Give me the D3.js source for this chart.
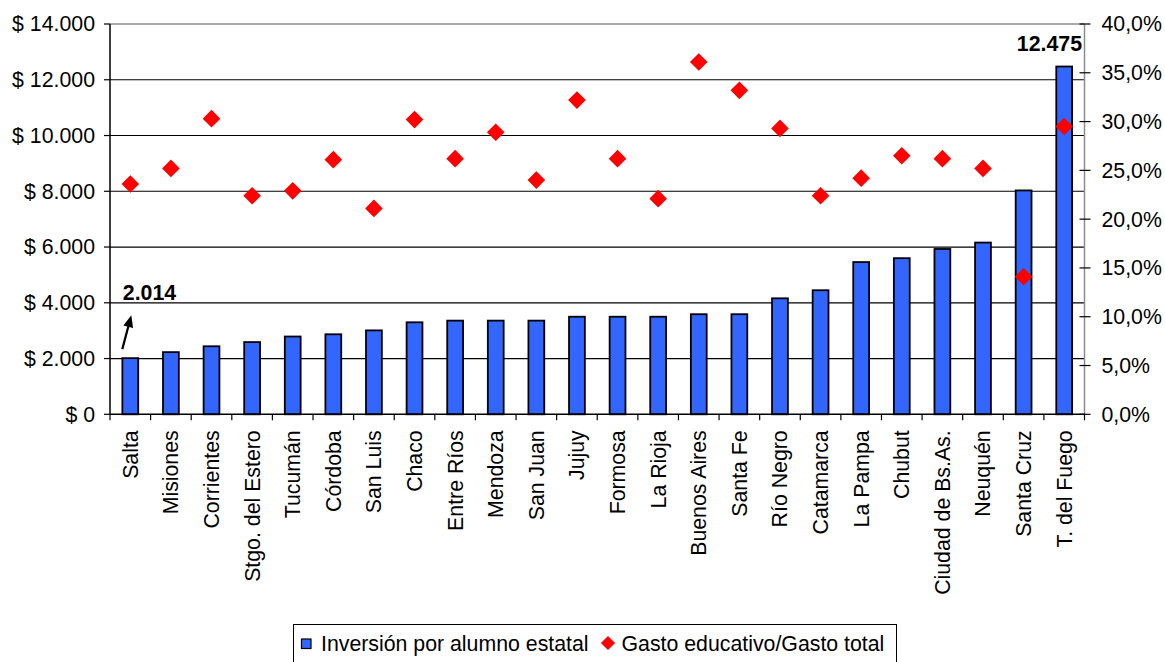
<!DOCTYPE html>
<html>
<head>
<meta charset="utf-8">
<script src="https://cdn.jsdelivr.net/npm/d3@7"></script>
<style>
  html, body { margin: 0; padding: 0; background: #fff; }
  svg { display: block; font-family: "Liberation Sans", Arial, sans-serif; }
</style>
</head>
<body>
<svg id="chart" width="1165" height="662"></svg>
<script>
// Provinces, ordered by state investment per pupil
const provinces = ["Salta", "Misiones", "Corrientes", "Stgo. del Estero", "Tucumán", "Córdoba",
  "San Luis", "Chaco", "Entre Ríos", "Mendoza", "San Juan", "Jujuy", "Formosa", "La Rioja",
  "Buenos Aires", "Santa Fe", "Río Negro", "Catamarca", "La Pampa", "Chubut",
  "Ciudad de Bs.As.", "Neuquén", "Santa Cruz", "T. del Fuego"];

// Inversión por alumno estatal ($)
const inversion = [2014, 2230, 2440, 2590, 2790, 2870, 3010, 3300, 3360, 3360, 3360, 3500,
  3500, 3500, 3590, 3590, 4160, 4450, 5460, 5600, 5930, 6160, 8030, 12475];

// Gasto educativo / Gasto total (%)
const gasto = [23.6, 25.2, 30.3, 22.4, 22.9, 26.1, 21.1, 30.2, 26.2, 28.9, 24.0, 32.2,
  26.2, 22.1, 36.1, 33.2, 29.3, 22.4, 24.2, 26.5, 26.2, 25.2, 14.1, 29.5];

const leftTicks = [0, 2000, 4000, 6000, 8000, 10000, 12000, 14000];
const rightTicks = [0, 5, 10, 15, 20, 25, 30, 35, 40];
const legendLabels = ["Inversión por alumno estatal", "Gasto educativo/Gasto total"];
const callouts = [{ idx: 0, text: "2.014" }, { idx: 23, text: "12.475" }];

const svg = d3.select("#chart");
const FS = 21.3;
const plot = { left: 110, right: 1084.5, top: 24, bottom: 414.3 };

const locale = d3.formatLocale({ decimal: ",", thousands: ".", grouping: [3], currency: ["$ ", ""] });
const fmtMoney = locale.format("$,.0f");
const fmtPct = locale.format(".1f");

const x = d3.scaleBand().domain(provinces).range([plot.left, plot.right]).padding(0);
const yL = d3.scaleLinear().domain([0, 14000]).range([plot.bottom, plot.top]);
const yR = d3.scaleLinear().domain([0, 40]).range([plot.bottom, plot.top]);
const barW = x.bandwidth() * 0.39;
const cx = d => x(d) + x.bandwidth() / 2;

// Horizontal gridlines
svg.append("g").selectAll("line")
  .data(leftTicks.filter(t => t > 0 && t < 14000))
  .join("line")
  .attr("x1", plot.left).attr("x2", plot.right)
  .attr("y1", d => yL(d)).attr("y2", d => yL(d))
  .attr("stroke", "#000").attr("stroke-width", 1.2);

// Plot frame: top and right in grey
svg.append("line").attr("x1", plot.left).attr("x2", plot.right)
  .attr("y1", yL(14000)).attr("y2", yL(14000)).attr("stroke", "#8c8c8c").attr("stroke-width", 1.5);
svg.append("line").attr("x1", plot.right).attr("x2", plot.right)
  .attr("y1", plot.top).attr("y2", plot.bottom).attr("stroke", "#8c8c8c").attr("stroke-width", 1.5);

// Bars
svg.append("g").selectAll("rect")
  .data(provinces)
  .join("rect")
  .attr("x", d => cx(d) - barW / 2)
  .attr("width", barW)
  .attr("y", (d, i) => yL(inversion[i]))
  .attr("height", (d, i) => plot.bottom - yL(inversion[i]))
  .attr("fill", "#3366ff")
  .attr("stroke", "#000")
  .attr("stroke-width", 1.8);

// Left axis
svg.append("line").attr("x1", plot.left).attr("x2", plot.left)
  .attr("y1", plot.top).attr("y2", plot.bottom).attr("stroke", "#000").attr("stroke-width", 1.5);
const gl = svg.append("g");
gl.selectAll("line").data(leftTicks).join("line")
  .attr("x1", plot.left - 6).attr("x2", plot.left)
  .attr("y1", d => yL(d)).attr("y2", d => yL(d))
  .attr("stroke", "#000").attr("stroke-width", 1.2);
gl.selectAll("text").data(leftTicks).join("text")
  .attr("x", 95).attr("y", d => yL(d)).attr("dy", "0.35em")
  .attr("text-anchor", "end").attr("font-size", FS).attr("fill", "#000")
  .text(d => fmtMoney(d));

// Right axis
const gr = svg.append("g");
gr.selectAll("line").data(rightTicks).join("line")
  .attr("x1", plot.right - 5).attr("x2", plot.right + 6)
  .attr("y1", d => yR(d)).attr("y2", d => yR(d))
  .attr("stroke", "#000").attr("stroke-width", 1.2);
gr.selectAll("text").data(rightTicks).join("text")
  .attr("x", 1101.5).attr("y", d => yR(d)).attr("dy", "0.35em")
  .attr("text-anchor", "start").attr("font-size", FS).attr("fill", "#000")
  .text(d => fmtPct(d) + "%");

// Bottom axis with ticks at category boundaries
svg.append("line").attr("x1", plot.left).attr("x2", plot.right)
  .attr("y1", plot.bottom).attr("y2", plot.bottom).attr("stroke", "#000").attr("stroke-width", 1.5);
const bounds = provinces.map(d => x(d)).concat([x.range()[1]]);
svg.append("g").selectAll("line").data(bounds).join("line")
  .attr("x1", d => d).attr("x2", d => d)
  .attr("y1", plot.bottom).attr("y2", plot.bottom + 6)
  .attr("stroke", "#000").attr("stroke-width", 1.2);
svg.append("g").selectAll("text").data(provinces).join("text")
  .attr("transform", d => `translate(${cx(d)},${plot.bottom + 16}) rotate(-90)`)
  .attr("dy", "0.35em")
  .attr("text-anchor", "end").attr("font-size", FS).attr("fill", "#000")
  .text(d => d);

// Diamonds: share of education in total spending
const diamond = d3.symbol().type(d3.symbolSquare).size(155);
svg.append("g").selectAll("path").data(provinces).join("path")
  .attr("d", diamond)
  .attr("transform", (d, i) => `translate(${cx(d)},${yR(gasto[i])}) rotate(45)`)
  .attr("fill", "#ff0000");

// Value callouts
const c0 = callouts[0];
const p0 = provinces[c0.idx];
svg.append("text")
  .attr("x", cx(p0) - 7.5).attr("y", yL(inversion[c0.idx]) - 58)
  .attr("font-size", FS).attr("font-weight", "bold").attr("fill", "#000")
  .text(c0.text);
// Arrow pointing up from the first bar
const ax0 = cx(p0) - 8, ay0 = yL(inversion[c0.idx]) - 9;
const ax1 = cx(p0) + 1, ay1 = yL(inversion[c0.idx]) - 43;
const ang = Math.atan2(ay1 - ay0, ax1 - ax0);
svg.append("line")
  .attr("x1", ax0).attr("y1", ay0)
  .attr("x2", ax1 - 8 * Math.cos(ang)).attr("y2", ay1 - 8 * Math.sin(ang))
  .attr("stroke", "#000").attr("stroke-width", 2.2);
const hl = 12, hw = 5;
const bx = ax1 - hl * Math.cos(ang), by = ay1 - hl * Math.sin(ang);
svg.append("path")
  .attr("d", `M${ax1},${ay1}L${bx + hw * Math.sin(ang)},${by - hw * Math.cos(ang)}L${bx - hw * Math.sin(ang)},${by + hw * Math.cos(ang)}Z`)
  .attr("fill", "#000");

const c1 = callouts[1];
svg.append("text")
  .attr("x", 1082).attr("y", yL(inversion[c1.idx]) - 16)
  .attr("text-anchor", "end")
  .attr("font-size", FS).attr("font-weight", "bold").attr("fill", "#000")
  .text(c1.text);

// Legend
const lg = svg.append("g");
lg.append("rect").attr("x", 293.5).attr("y", 624.5).attr("width", 603).attr("height", 45)
  .attr("fill", "#fff").attr("stroke", "#000").attr("stroke-width", 1);
lg.append("rect").attr("x", 301.5).attr("y", 639).attr("width", 9.5).attr("height", 9.5)
  .attr("fill", "#3366ff").attr("stroke", "#000").attr("stroke-width", 1.2);
lg.append("text").attr("x", 321).attr("y", 651).attr("font-size", FS).attr("fill", "#000")
  .text(legendLabels[0]);
lg.append("path").attr("d", d3.symbol().type(d3.symbolSquare).size(100))
  .attr("transform", "translate(608,643) rotate(45)").attr("fill", "#ff0000");
lg.append("text").attr("x", 621.5).attr("y", 651).attr("font-size", FS).attr("fill", "#000")
  .text(legendLabels[1]);
</script>
</body>
</html>
